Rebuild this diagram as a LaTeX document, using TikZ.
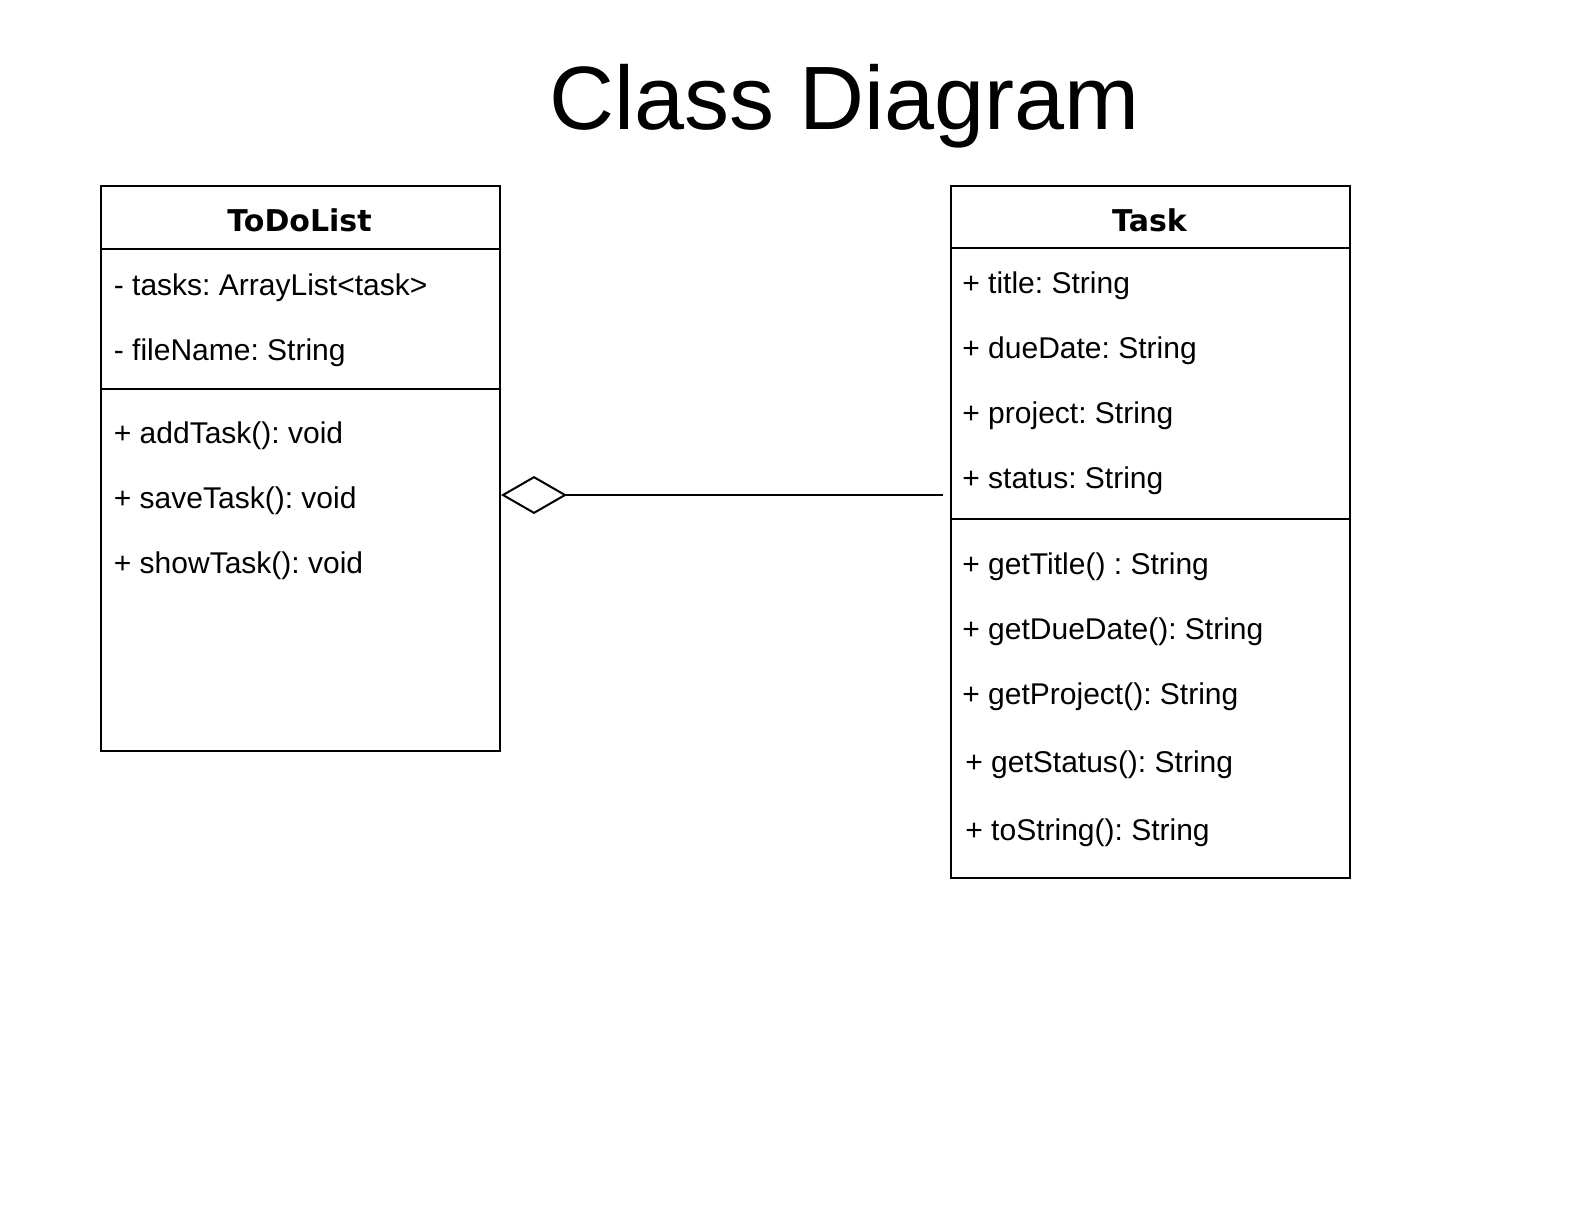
\documentclass[tikz,border=0pt]{standalone}
\usepackage{fontspec}
\setmainfont{Liberation Sans}
\newfontfamily\headfont{DejaVu Sans}
\usetikzlibrary{arrows.meta}
\frenchspacing
\tikzset{
  classbox/.style={draw, line width=1pt, minimum width=199.5pt, inner sep=0pt, anchor=north west},
  divider/.style={line width=1pt},
  member/.style={anchor=base west, inner sep=0pt, font=\fontsize{15pt}{18pt}\selectfont},
  classname/.style={anchor=base, inner sep=0pt, font=\headfont\bfseries\fontsize{15pt}{18pt}\selectfont},
  titletext/.style={anchor=base, inner sep=0pt, font=\fontsize{45pt}{54pt}\selectfont},
  aggregation/.style={line width=1pt, -{Diamond[open, length=33pt, width=19pt, line width=1pt]}}
}
\begin{document}
\begin{tikzpicture}[x=0.5pt,y=-0.5pt]
\useasboundingbox[fill=white] (0,0) rectangle (1582,1228);

% title
\node[titletext] (title) at (845,129) {Class Diagram};

% ToDoList class
\node[classbox, minimum height=282.5pt] (todo) at (100,185) {};
\draw[divider] (todo.west |- 0,249) -- (todo.east |- 0,249);
\draw[divider] (todo.west |- 0,389) -- (todo.east |- 0,389);
\node[classname] (todoname) at (299.5,231) {ToDoList};
\node[member] (t1) at (113.5,295) {- tasks: ArrayList<task>};
\node[member] (t2) at (113.5,360) {- fileName: String};
\node[member] (t3) at (113.5,443) {+ addTask(): void};
\node[member] (t4) at (113.5,508) {+ saveTask(): void};
\node[member] (t5) at (113.5,573) {+ showTask(): void};

% Task class
\node[classbox, minimum height=346pt] (task) at (950,185) {};
\draw[divider] (task.west |- 0,248) -- (task.east |- 0,248);
\draw[divider] (task.west |- 0,519) -- (task.east |- 0,519);
\node[classname] (taskname) at (1149.5,231) {Task};
\node[member] (k1) at (962,293) {+ title: String};
\node[member] (k2) at (962,358) {+ dueDate: String};
\node[member] (k3) at (962,423) {+ project: String};
\node[member] (k4) at (962,488) {+ status: String};
\node[member] (k5) at (962,574) {+ getTitle() : String};
\node[member] (k6) at (962,639) {+ getDueDate(): String};
\node[member] (k7) at (962,704) {+ getProject(): String};
\node[member] (k8) at (965,772) {+ getStatus(): String};
\node[member] (k9) at (965,840) {+ toString(): String};

% aggregation connector
\coordinate (taskend) at ([xshift=-3.5pt]task.west |- 0,495);
\draw[aggregation] (taskend) -- (todo.east |- taskend);
\end{tikzpicture}
\end{document}
